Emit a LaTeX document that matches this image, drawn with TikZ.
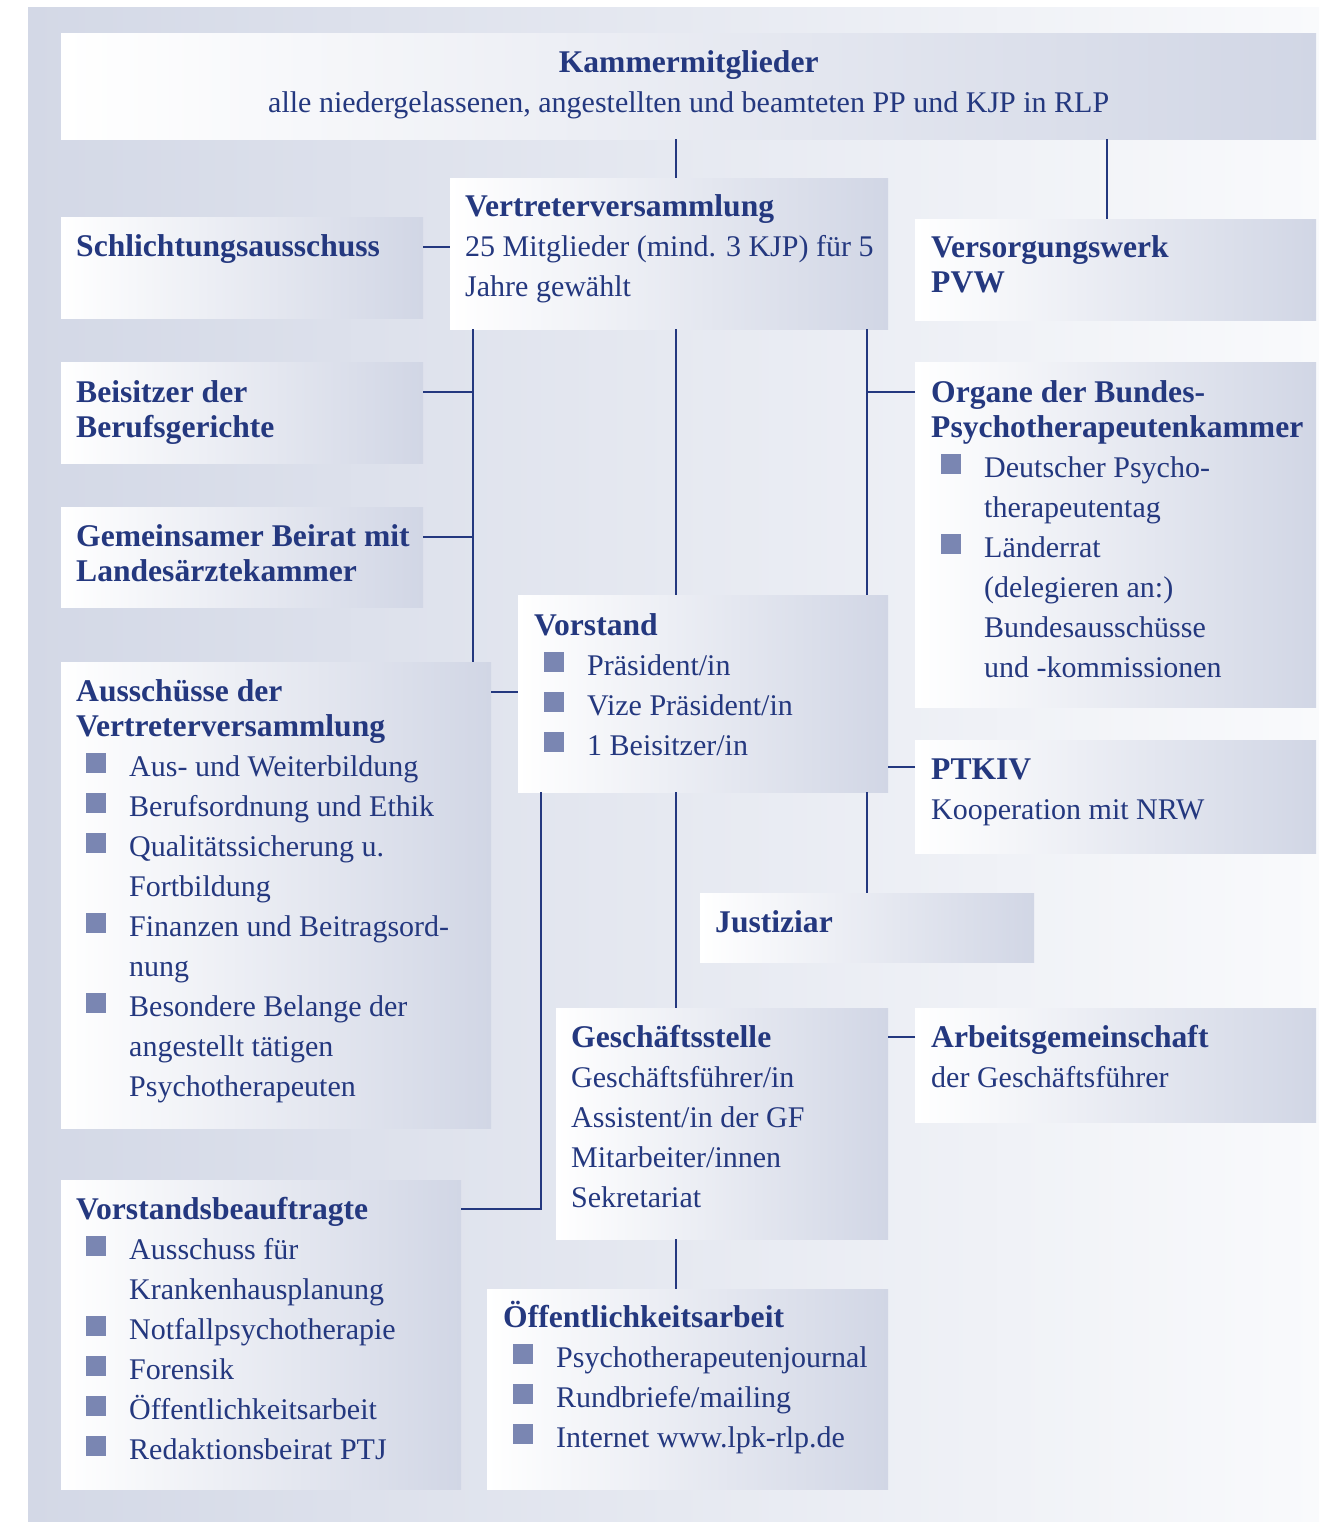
\documentclass[tikz,border=0pt]{standalone}
\usepackage{fontspec}
\setmainfont{Liberation Serif}
\usetikzlibrary{calc}

\definecolor{navy}{HTML}{24387F}
\definecolor{bul}{HTML}{7A86B2}
\definecolor{boxc}{HTML}{D1D6E5}
\definecolor{bgl}{HTML}{D3D8E6}
\definecolor{bgr}{HTML}{F9FAFC}

\newcommand{\bsq}{\raisebox{3pt}{\textcolor{bul}{\rule{20pt}{20pt}}}}
\newcommand{\bitem}[1]{\hspace{10pt}\bsq\hspace{23pt}#1}
\newcommand{\bcont}[1]{\hspace{53pt}#1}
\newcommand{\hd}[1]{{\fontsize{31.6}{40}\selectfont\bfseries #1}}

\begin{document}
\begin{tikzpicture}[x=1pt, y=-1pt,
	box/.style={rectangle, anchor=north west, inner sep=0pt, left color=white, right color=boxc},
	txt/.style={anchor=base west, inner sep=0pt, text=navy, font=\fontsize{30}{40}\selectfont},
	ln/.style={draw=navy, line width=2.9pt}]
	\path[use as bounding box, fill=white] (0,0) rectangle (1319,1522);
	\shade[left color=bgl, right color=bgr] (28,8) rectangle (1319,1522);

	\node[box, minimum width=1255pt, minimum height=106pt] (km) at (61,33) {};
	\node[box, minimum width=438pt, minimum height=151pt] (vv) at (450,178) {};
	\node[box, minimum width=362pt, minimum height=101pt] (sa) at (61,217) {};
	\node[box, minimum width=401pt, minimum height=101pt] (vw) at (915,219) {};
	\node[box, minimum width=362pt, minimum height=101pt] (bg) at (61,362) {};
	\node[box, minimum width=401pt, minimum height=345pt] (og) at (915,362) {};
	\node[box, minimum width=362pt, minimum height=100pt] (gb) at (61,507) {};
	\node[box, minimum width=370pt, minimum height=197pt] (vs) at (518,595) {};
	\node[box, minimum width=430pt, minimum height=466pt] (au) at (61,662) {};
	\node[box, minimum width=401pt, minimum height=113pt] (pk) at (915,740) {};
	\node[box, minimum width=334pt, minimum height=69pt] (ju) at (700,893) {};
	\node[box, minimum width=332pt, minimum height=231pt] (gs) at (556,1008) {};
	\node[box, minimum width=401pt, minimum height=114pt] (ag) at (915,1008) {};
	\node[box, minimum width=400pt, minimum height=309pt] (vb) at (61,1180) {};
	\node[box, minimum width=401pt, minimum height=200pt] (oe) at (487,1289) {};

	\node[txt, anchor=base] (km-t) at ($(km.north)+(0,40)$) {\begin{tabular}[t]{@{}c@{}}
		\hd{Kammermitglieder}\\
		alle niedergelassenen, angestellten und beamteten PP und KJP in RLP
	\end{tabular}};
	\node[txt] (vv-t) at ($(vv.north west)+(15,39)$) {\begin{tabular}[t]{@{}l@{}}
		\hd{Vertreterversammlung}\\
		25 Mitglieder (mind. 3 KJP) für 5\\
		Jahre gewählt
	\end{tabular}};
	\node[txt] (sa-t) at ($(sa.north west)+(15,40)$) {\hd{Schlichtungsausschuss}};
	\node[txt] (vw-t) at ($(vw.north west)+(16,39)$) {\begin{tabular}[t]{@{}l@{}}
		\hd{Versorgungswerk}\\[-5pt]
		\hd{PVW}
	\end{tabular}};
	\node[txt] (bg-t) at ($(bg.north west)+(15,40)$) {\begin{tabular}[t]{@{}l@{}}
		\hd{Beisitzer der}\\[-5pt]
		\hd{Berufsgerichte}
	\end{tabular}};
	\node[txt] (og-t) at ($(og.north west)+(16,40)$) {\begin{tabular}[t]{@{}l@{}}
		\hd{Organe der Bundes-}\\[-5pt]
		\hd{Psychotherapeutenkammer}\\
		\bitem{Deutscher Psycho-}\\
		\bcont{therapeutentag}\\
		\bitem{Länderrat}\\
		\bcont{(delegieren an:)}\\
		\bcont{Bundesausschüsse}\\
		\bcont{und -kommissionen}
	\end{tabular}};
	\node[txt] (gb-t) at ($(gb.north west)+(15,39)$) {\begin{tabular}[t]{@{}l@{}}
		\hd{Gemeinsamer Beirat mit}\\[-5pt]
		\hd{Landesärztekammer}
	\end{tabular}};
	\node[txt] (vs-t) at ($(vs.north west)+(16,40)$) {\begin{tabular}[t]{@{}l@{}}
		\hd{Vorstand}\\
		\bitem{Präsident/in}\\
		\bitem{Vize Präsident/in}\\
		\bitem{1 Beisitzer/in}
	\end{tabular}};
	\node[txt] (au-t) at ($(au.north west)+(15,39)$) {\begin{tabular}[t]{@{}l@{}}
		\hd{Ausschüsse der}\\[-5pt]
		\hd{Vertreterversammlung}\\
		\bitem{Aus- und Weiterbildung}\\
		\bitem{Berufsordnung und Ethik}\\
		\bitem{Qualitätssicherung u.}\\
		\bcont{Fortbildung}\\
		\bitem{Finanzen und Beitragsord-}\\
		\bcont{nung}\\
		\bitem{Besondere Belange der}\\
		\bcont{angestellt tätigen}\\
		\bcont{Psychotherapeuten}
	\end{tabular}};
	\node[txt] (pk-t) at ($(pk.north west)+(16,39)$) {\begin{tabular}[t]{@{}l@{}}
		\hd{PTKIV}\\
		Kooperation mit NRW
	\end{tabular}};
	\node[txt] (ju-t) at ($(ju.north west)+(15,39)$) {\hd{Justiziar}};
	\node[txt] (gs-t) at ($(gs.north west)+(15,39)$) {\begin{tabular}[t]{@{}l@{}}
		\hd{Geschäftsstelle}\\
		Geschäftsführer/in\\
		Assistent/in der GF\\
		Mitarbeiter/innen\\
		Sekretariat
	\end{tabular}};
	\node[txt] (ag-t) at ($(ag.north west)+(16,39)$) {\begin{tabular}[t]{@{}l@{}}
		\hd{Arbeitsgemeinschaft}\\
		der Geschäftsführer
	\end{tabular}};
	\node[txt] (vb-t) at ($(vb.north west)+(15,39)$) {\begin{tabular}[t]{@{}l@{}}
		\hd{Vorstandsbeauftragte}\\
		\bitem{Ausschuss für}\\
		\bcont{Krankenhausplanung}\\
		\bitem{Notfallpsychotherapie}\\
		\bitem{Forensik}\\
		\bitem{Öffentlichkeitsarbeit}\\
		\bitem{Redaktionsbeirat PTJ}
	\end{tabular}};
	\node[txt] (oe-t) at ($(oe.north west)+(16,38)$) {\begin{tabular}[t]{@{}l@{}}
		\hd{Öffentlichkeitsarbeit}\\
		\bitem{Psychotherapeutenjournal}\\
		\bitem{Rundbriefe/mailing}\\
		\bitem{Internet www.lpk-rlp.de}
	\end{tabular}};

	\coordinate (xa) at (676,0);
	\coordinate (xb) at (1107,0);
	\coordinate (xc) at (473,0);
	\coordinate (xd) at (867,0);
	\coordinate (xe) at (541,0);
	\coordinate (sa-r) at ($(sa.north east)+(0,30)$);
	\coordinate (bg-r) at ($(bg.north east)+(0,30)$);
	\coordinate (gb-r) at ($(gb.north east)+(0,30)$);
	\coordinate (og-l) at ($(og.north west)+(0,30)$);
	\coordinate (au-r) at ($(au.north east)+(0,30)$);
	\coordinate (pk-l) at ($(pk.north west)+(0,27)$);
	\coordinate (vb-r) at ($(vb.north east)+(0,29)$);
	\coordinate (ag-l) at ($(ag.north west)+(0,29)$);

	\draw[ln] (km.south -| xa) -- (vv.north -| xa);
	\draw[ln] (km.south -| xb) -- (vw.north -| xb);
	\draw[ln] (sa-r) -- (sa-r -| vv.west);
	\draw[ln] (vv.south -| xc) -- (au.north -| xc);
	\draw[ln] (bg-r) -- (bg-r -| xc);
	\draw[ln] (gb-r) -- (gb-r -| xc);
	\draw[ln] (vv.south -| xa) -- (vs.north -| xa);
	\draw[ln] (vv.south -| xd) -- (vs.north -| xd);
	\draw[ln] (og-l) -- (og-l -| xd);
	\draw[ln] (au-r) -- (au-r -| vs.west);
	\draw[ln] (pk-l) -- (pk-l -| vs.east);
	\draw[ln] (vs.south -| xd) -- (ju.north -| xd);
	\draw[ln] (vs.south -| xa) -- (gs.north -| xa);
	\draw[ln] (vs.south -| xe) |- (vb-r);
	\draw[ln] (ag-l) -- (ag-l -| gs.east);
	\draw[ln] (gs.south -| xa) -- (oe.north -| xa);
\end{tikzpicture}
\end{document}
